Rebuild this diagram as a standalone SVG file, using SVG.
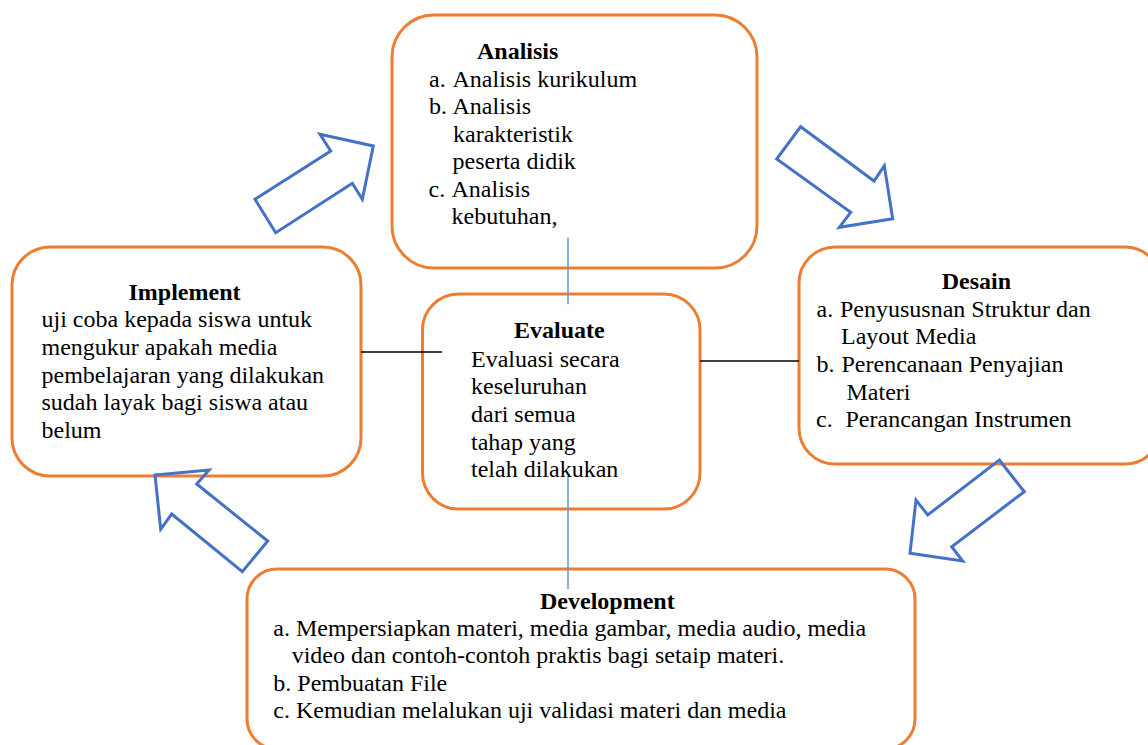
<svg xmlns="http://www.w3.org/2000/svg" width="1148" height="745" viewBox="0 0 1148 745">
<style>
.box{fill:#fff;stroke:#ED7D31;stroke-width:3}
.arr{fill:none;stroke:#4472C4;stroke-width:3;stroke-linejoin:miter}
.t{font-family:"Liberation Serif","Times New Roman",serif;font-size:24px;fill:#000}
.b{font-weight:bold}
.bl{stroke:#5B9BD5;stroke-width:1.5}
.bk{stroke:#000;stroke-width:1.5}
</style>
<rect width="1148" height="745" fill="#fff"/>
<g id="analisis">
<rect class="box" x="392" y="15" width="365" height="253" rx="42"/>
<text class="t b" x="477" y="58.5">Analisis</text>
<text class="t"><tspan x="429" y="86.5">a.</tspan><tspan x="452.5" y="86.5">Analisis kurikulum</tspan></text>
<text class="t"><tspan x="429" y="114">b.</tspan><tspan x="452.5" y="114">Analisis</tspan></text>
<text class="t" x="453" y="141.5">karakteristik</text>
<text class="t" x="452.5" y="169">peserta didik</text>
<text class="t"><tspan x="428.5" y="196.5">c.</tspan><tspan x="451.5" y="196.5">Analisis</tspan></text>
<text class="t" x="451.5" y="224">kebutuhan,</text>
</g>
<g id="implement">
<rect class="box" x="12" y="247" width="349" height="229" rx="38"/>
<text class="t b" x="128.5" y="299.5">Implement</text>
<text class="t" x="41.5" y="327.3">uji coba kepada siswa untuk</text>
<text class="t" x="41.5" y="355">mengukur apakah media</text>
<text class="t" x="41.5" y="382.7">pembelajaran yang dilakukan</text>
<text class="t" x="41.5" y="410.3">sudah layak bagi siswa atau</text>
<text class="t" x="41.5" y="438">belum</text>
</g>
<g id="evaluate">
<rect class="box" x="422.5" y="294" width="277.5" height="215" rx="36"/>
<text class="t b" x="514" y="338.3">Evaluate</text>
<text class="t" x="471" y="366.7">Evaluasi secara</text>
<text class="t" x="471" y="394.3">keseluruhan</text>
<text class="t" x="471" y="422">dari semua</text>
<text class="t" x="471" y="449.7">tahap yang</text>
<text class="t" x="471" y="477.3">telah dilakukan</text>
</g>
<g id="desain">
<rect class="box" x="799" y="247" width="362" height="217" rx="36"/>
<text class="t b" x="941.7" y="289">Desain</text>
<text class="t"><tspan x="816.5" y="316.7">a.</tspan><tspan x="840" y="316.7">Penyususnan Struktur dan</tspan></text>
<text class="t" x="841" y="344.3">Layout Media</text>
<text class="t"><tspan x="816.5" y="372">b.</tspan><tspan x="841.5" y="372">Perencanaan Penyajian</tspan></text>
<text class="t" x="846.5" y="399.7">Materi</text>
<text class="t"><tspan x="816" y="427.3">c.</tspan><tspan x="845.5" y="427.3">Perancangan Instrumen</tspan></text>
</g>
<g id="development">
<rect class="box" x="247" y="569" width="668" height="180" rx="30"/>
<text class="t b" x="540" y="608.5">Development</text>
<text class="t" x="273.3" y="635.5">a. Mempersiapkan materi, media gambar, media audio, media</text>
<text class="t" x="291.7" y="663">video dan contoh-contoh praktis bagi setaip materi.</text>
<text class="t" x="273.3" y="690.5">b. Pembuatan File</text>
<text class="t" x="273.3" y="718">c. Kemudian melalukan uji validasi materi dan media</text>
</g>
<g id="arrows">
<polygon class="arr" points="255,199.3 330.7,151 320,134.3 373.3,146 362.3,199.3 352.3,183.3 275.7,232.7"/>
<polygon class="arr" points="800.7,126.7 874,181 884.3,165.7 892.7,218.7 839.3,227.3 850.7,212.3 776.7,159"/>
<polygon class="arr" points="999.3,460 1024.3,491.7 951.7,546.7 962.7,561 910,553.3 916,500 927.7,515"/>
<polygon class="arr" points="155,475 209,470 196.7,484 267.7,541 242.3,571.7 171.7,514 160.7,529.3"/>
</g>
<g id="connectors">
<line class="bl" x1="568" y1="237.7" x2="568" y2="304.3"/>
<line class="bl" x1="568" y1="477" x2="568" y2="589"/>
<line class="bk" x1="361" y1="352" x2="442" y2="352"/>
<line class="bk" x1="700" y1="361" x2="799" y2="361"/>
</g>
</svg>
